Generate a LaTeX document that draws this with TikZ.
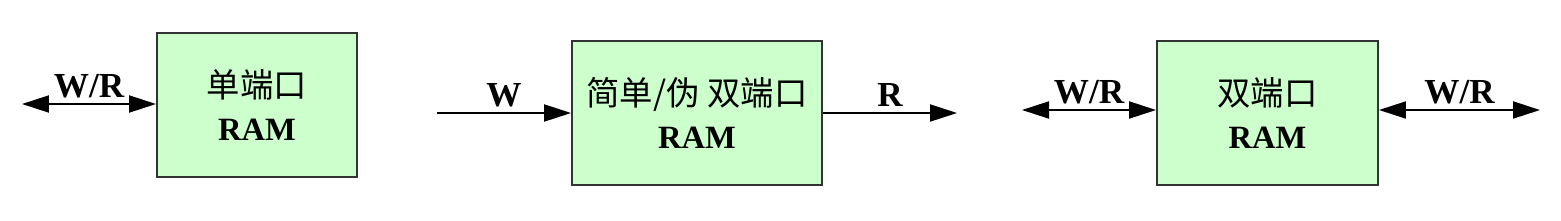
\documentclass[tikz,border=0pt]{standalone}
\usepackage{fontspec}
\setmainfont{Liberation Serif}
\newfontfamily\cjk{Noto Sans CJK SC}
\usetikzlibrary{arrows.meta}
\definecolor{ramgreen}{HTML}{CCFFCC}
\definecolor{ramedge}{HTML}{333333}
\tikzset{
  ram/.style = {draw = ramedge, line width = 0.04cm, fill = ramgreen, minimum height = 2.88cm,
    align = center, font = \fontsize{18.5}{24}\selectfont},
  port/.style = {line width = 0.04cm, -{Triangle[length = 0.54cm, width = 0.34cm]}},
  bidir/.style = {line width = 0.04cm, {Triangle[length = 0.54cm, width = 0.34cm]}-{Triangle[length = 0.54cm, width = 0.34cm]}},
  lbl/.style = {font = \fontsize{20}{24}\selectfont\bfseries, inner sep = 3pt}
}
\begin{document}
\begin{tikzpicture}[x = 0.02cm, y = -0.02cm]
\useasboundingbox (0,0) rectangle (1561,220);
% single port
\node[ram, minimum width = 4cm] at (257,105) (b1) {{\cjk\fontsize{19}{24}\selectfont 单端口}\\\textbf{RAM}};
\coordinate (l1) at (22,104);
\draw[bidir] (l1) -- (l1 -| b1.west) node[midway, above, lbl] (t1) {W/R};
% simple dual port
\node[ram, minimum width = 5cm] at (697,113) (b2) {{\cjk\fontsize{19}{24}\selectfont 简单/伪 双端口}\\\textbf{RAM}};
\coordinate (l2) at (437,113);
\coordinate (r2) at (957,113);
\draw[port] (l2) -- (b2.west) node[midway, above, lbl] (t2) {W};
\draw[port] (b2.east) -- (r2) node[midway, above, lbl] (t3) {R};
% true dual port
\node[ram, minimum width = 4.42cm] at (1267.5,113) (b3) {{\cjk\fontsize{19}{24}\selectfont 双端口}\\\textbf{RAM}};
\coordinate (l3) at (1022,110);
\coordinate (r3) at (1540,110);
\draw[bidir] (l3) -- (l3 -| b3.west) node[midway, above, lbl] (t4) {W/R};
\draw[bidir] (r3 -| b3.east) -- (r3) node[midway, above, lbl] (t5) {W/R};
\end{tikzpicture}
\end{document}
